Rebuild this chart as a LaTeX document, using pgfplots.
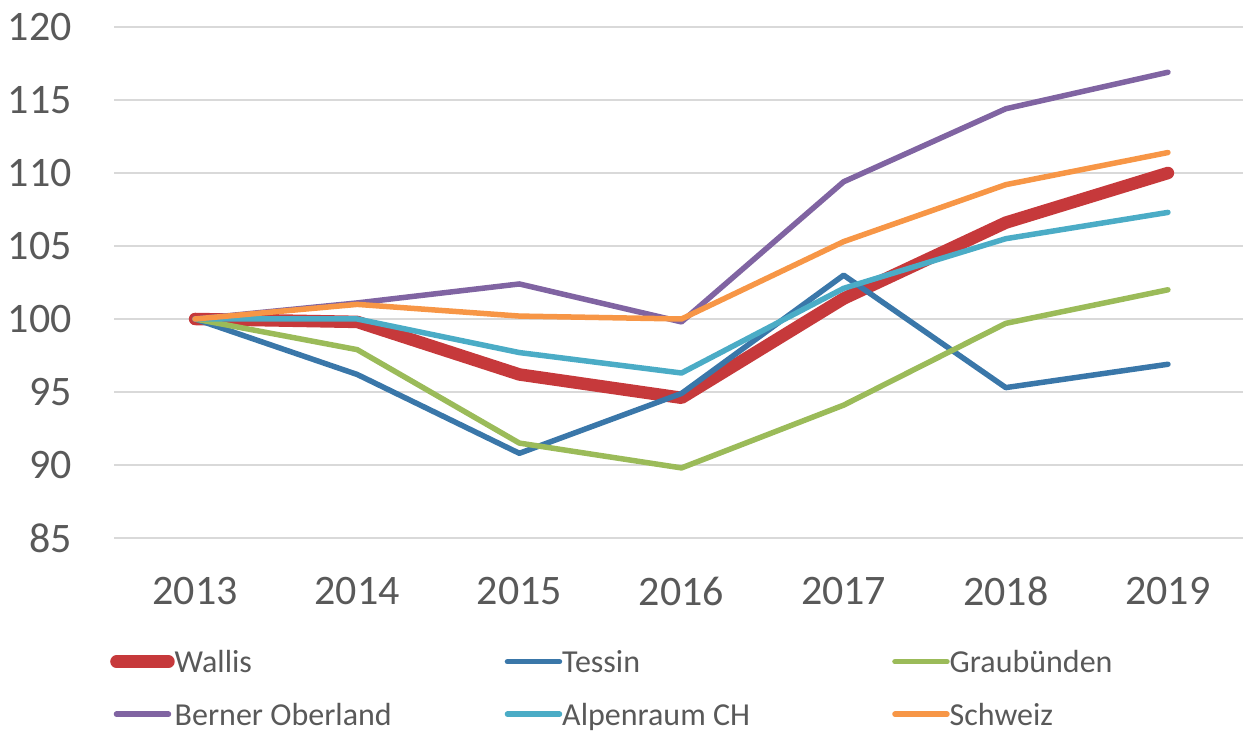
\documentclass[border=0pt]{standalone}
\usepackage{fontspec}
\setmainfont{Carlito}
\usepackage{pgfplots}
\pgfplotsset{compat=1.18}
\definecolor{cwallis}{HTML}{C6393B}
\definecolor{ctessin}{HTML}{3A77A9}
\definecolor{cgrau}{HTML}{9BBB59}
\definecolor{cberner}{HTML}{8064A2}
\definecolor{calpen}{HTML}{4BACC6}
\definecolor{cschweiz}{HTML}{F79646}
\definecolor{cgrid}{HTML}{D9D9D9}
\definecolor{ctext}{HTML}{595959}
\newcommand{\legtxt}[1]{\makebox[330bp][l]{\rule[-2bp]{0pt}{26bp}#1}}
\begin{document}
\begin{tikzpicture}[x=1bp,y=1bp]
\useasboundingbox (0,0) rectangle (1243,731);
\begin{axis}[
  at={(114bp,193bp)}, anchor=south west,
  scale only axis, width=1135bp, height=511bp,
  xmin=-0.5, xmax=6.5, ymin=85, ymax=120,
  axis line style={draw=none},
  major tick length=0pt,
  xtick={0,...,6},
  xticklabels={2013,2014,2015,2016,2017,2018,2019},
  ytick={85,90,...,120},
  ymajorgrids,
  grid style={cgrid, line width=2bp},
  tick label style={font=\fontsize{42bp}{48bp}\selectfont, text=ctext, inner sep=0pt},
  /pgf/number format/assume math mode=true,
  xticklabel style={anchor=north, yshift=-39bp},
  yticklabel style={anchor=east, xshift=-42bp},
  legend columns=3,
  legend cell align=left,
  legend style={draw=none, fill=none, at={(-0.0035,-0.2167)}, anchor=north west,
    font=\fontsize{32bp}{38bp}\selectfont, text=ctext, inner sep=0pt,
    row sep=27bp,
    nodes={inner sep=0pt},
    /tikz/every even column/.append style={column sep=0bp}},
  legend image code/.code={\draw[#1] (0bp,0bp) -- (52bp,0bp);},
  every axis plot/.append style={line cap=round, line join=round},
]
\addplot[cwallis, line width=12.5bp] coordinates {(0,100) (1,99.8) (2,96.2) (3,94.6) (4,101.4) (5,106.6) (6,110.0)};
\addlegendentry{\legtxt{Wallis}}
\addplot[ctessin, line width=5.5bp] coordinates {(0,100) (1,96.2) (2,90.8) (3,94.9) (4,103.0) (5,95.3) (6,96.9)};
\addlegendentry{\legtxt{Tessin}}
\addplot[cgrau, line width=5.5bp] coordinates {(0,100) (1,97.9) (2,91.5) (3,89.8) (4,94.1) (5,99.7) (6,102.0)};
\addlegendentry{\legtxt{Graubünden}}
\addplot[cberner, line width=5.5bp] coordinates {(0,100) (1,101.1) (2,102.4) (3,99.8) (4,109.4) (5,114.4) (6,116.9)};
\addlegendentry{\legtxt{Berner Oberland}}
\addplot[calpen, line width=5.5bp] coordinates {(0,100) (1,100.0) (2,97.7) (3,96.3) (4,102.1) (5,105.5) (6,107.3)};
\addlegendentry{\legtxt{Alpenraum CH}}
\addplot[cschweiz, line width=5.5bp] coordinates {(0,100) (1,101.0) (2,100.2) (3,100.0) (4,105.3) (5,109.2) (6,111.4)};
\addlegendentry{\legtxt{Schweiz}}
\end{axis}
\end{tikzpicture}
\end{document}
